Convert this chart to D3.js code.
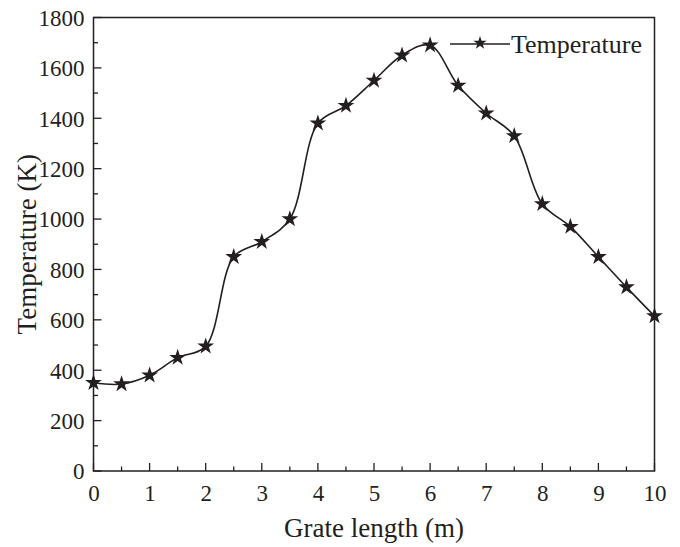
<!DOCTYPE html>
<html>
<head>
<meta charset="utf-8">
<script src="https://cdn.jsdelivr.net/npm/d3@7"></script>
<style>
  html, body { margin: 0; padding: 0; background: #fff; }
  svg text { font-family: "Liberation Serif", "Times New Roman", serif; fill: #231f20; }
</style>
</head>
<body>
<svg id="chart" width="680" height="547"></svg>
<script>
// Temperature profile along the grate
const gratePositions = [0, 0.5, 1, 1.5, 2, 2.5, 3, 3.5, 4, 4.5, 5, 5.5, 6, 6.5, 7, 7.5, 8, 8.5, 9, 9.5, 10];
const temperatures   = [350, 345, 380, 450, 495, 850, 910, 1000, 1380, 1450, 1550, 1650, 1690, 1530, 1420, 1330, 1060, 970, 850, 730, 615];
const xTicks = [0, 1, 2, 3, 4, 5, 6, 7, 8, 9, 10];
const yTicks = [0, 200, 400, 600, 800, 1000, 1200, 1400, 1600, 1800];
const seriesName = "Temperature";

const svg = d3.select("#chart");
const margin = { left: 93.5, right: 25.5, top: 17.5, bottom: 76 };
const W = 680, H = 547;
const x = d3.scaleLinear().domain([0, 10]).range([margin.left, W - margin.right]);
const y = d3.scaleLinear().domain([0, 1800]).range([H - margin.bottom, margin.top]);
const ink = "#231f20";

// frame
svg.append("rect")
  .attr("x", x(0)).attr("y", y(1800))
  .attr("width", x(10) - x(0)).attr("height", y(0) - y(1800))
  .attr("fill", "none").attr("stroke", ink).attr("stroke-width", 1.5);

// major and minor ticks, pointing inward
const minorX = d3.range(0.5, 10, 1);
const minorY = d3.range(100, 1800, 200);
const tickG = svg.append("g").attr("stroke", ink).attr("stroke-width", 1.3);
xTicks.forEach(v => tickG.append("line").attr("x1", x(v)).attr("x2", x(v)).attr("y1", y(0)).attr("y2", y(0) - 8));
minorX.forEach(v => tickG.append("line").attr("x1", x(v)).attr("x2", x(v)).attr("y1", y(0)).attr("y2", y(0) - 4.5));
yTicks.forEach(v => tickG.append("line").attr("y1", y(v)).attr("y2", y(v)).attr("x1", x(0)).attr("x2", x(0) + 8));
minorY.forEach(v => tickG.append("line").attr("y1", y(v)).attr("y2", y(v)).attr("x1", x(0)).attr("x2", x(0) + 4.5));

// tick labels
const xAxis = d3.axisBottom(x).tickValues(xTicks).tickSize(0).tickPadding(0).tickFormat(d3.format("d"));
const gx = svg.append("g").attr("transform", `translate(0,${y(0)})`).call(xAxis);
gx.select(".domain").remove();
gx.selectAll("text").attr("y", 30).attr("dy", null).style("font-size", "23px");

const yAxis = d3.axisLeft(y).tickValues(yTicks).tickSize(0).tickPadding(0).tickFormat(d3.format("d"));
const gy = svg.append("g").attr("transform", `translate(${x(0)},0)`).call(yAxis);
gy.select(".domain").remove();
gy.selectAll("text").attr("x", -9).attr("dy", "0.34em").style("font-size", "23px");

// axis titles
svg.append("text")
  .attr("x", (x(0) + x(10)) / 2).attr("y", 537)
  .attr("text-anchor", "middle").style("font-size", "27px")
  .text("Grate length (m)");
svg.append("text")
  .attr("transform", `translate(36,${(y(0) + y(1800)) / 2}) rotate(-90)`)
  .attr("text-anchor", "middle").style("font-size", "27px")
  .text("Temperature (K)");

// series: smooth line with star markers
const pts = gratePositions.map((g, i) => [g, temperatures[i]]);
const line = d3.line().x(d => x(d[0])).y(d => y(d[1])).curve(d3.curveCatmullRom.alpha(0.5));
svg.append("path").datum(pts)
  .attr("d", line).attr("fill", "none").attr("stroke", ink).attr("stroke-width", 1.6);

const star = d3.symbol().type(d3.symbolStar).size(88);
svg.append("g").selectAll("path").data(pts).join("path")
  .attr("transform", d => `translate(${x(d[0])},${y(d[1])})`)
  .attr("d", star).attr("fill", ink);

// legend
const lg = svg.append("g").attr("transform", "translate(450,44)");
lg.append("line").attr("x1", 0).attr("x2", 60).attr("y1", 0).attr("y2", 0)
  .attr("stroke", ink).attr("stroke-width", 1.6);
lg.append("path").attr("transform", "translate(30,-1)")
  .attr("d", d3.symbol().type(d3.symbolStar).size(55)()).attr("fill", ink);
lg.append("text").attr("x", 61).attr("y", 9).style("font-size", "26px").text(seriesName);
</script>
</body>
</html>
